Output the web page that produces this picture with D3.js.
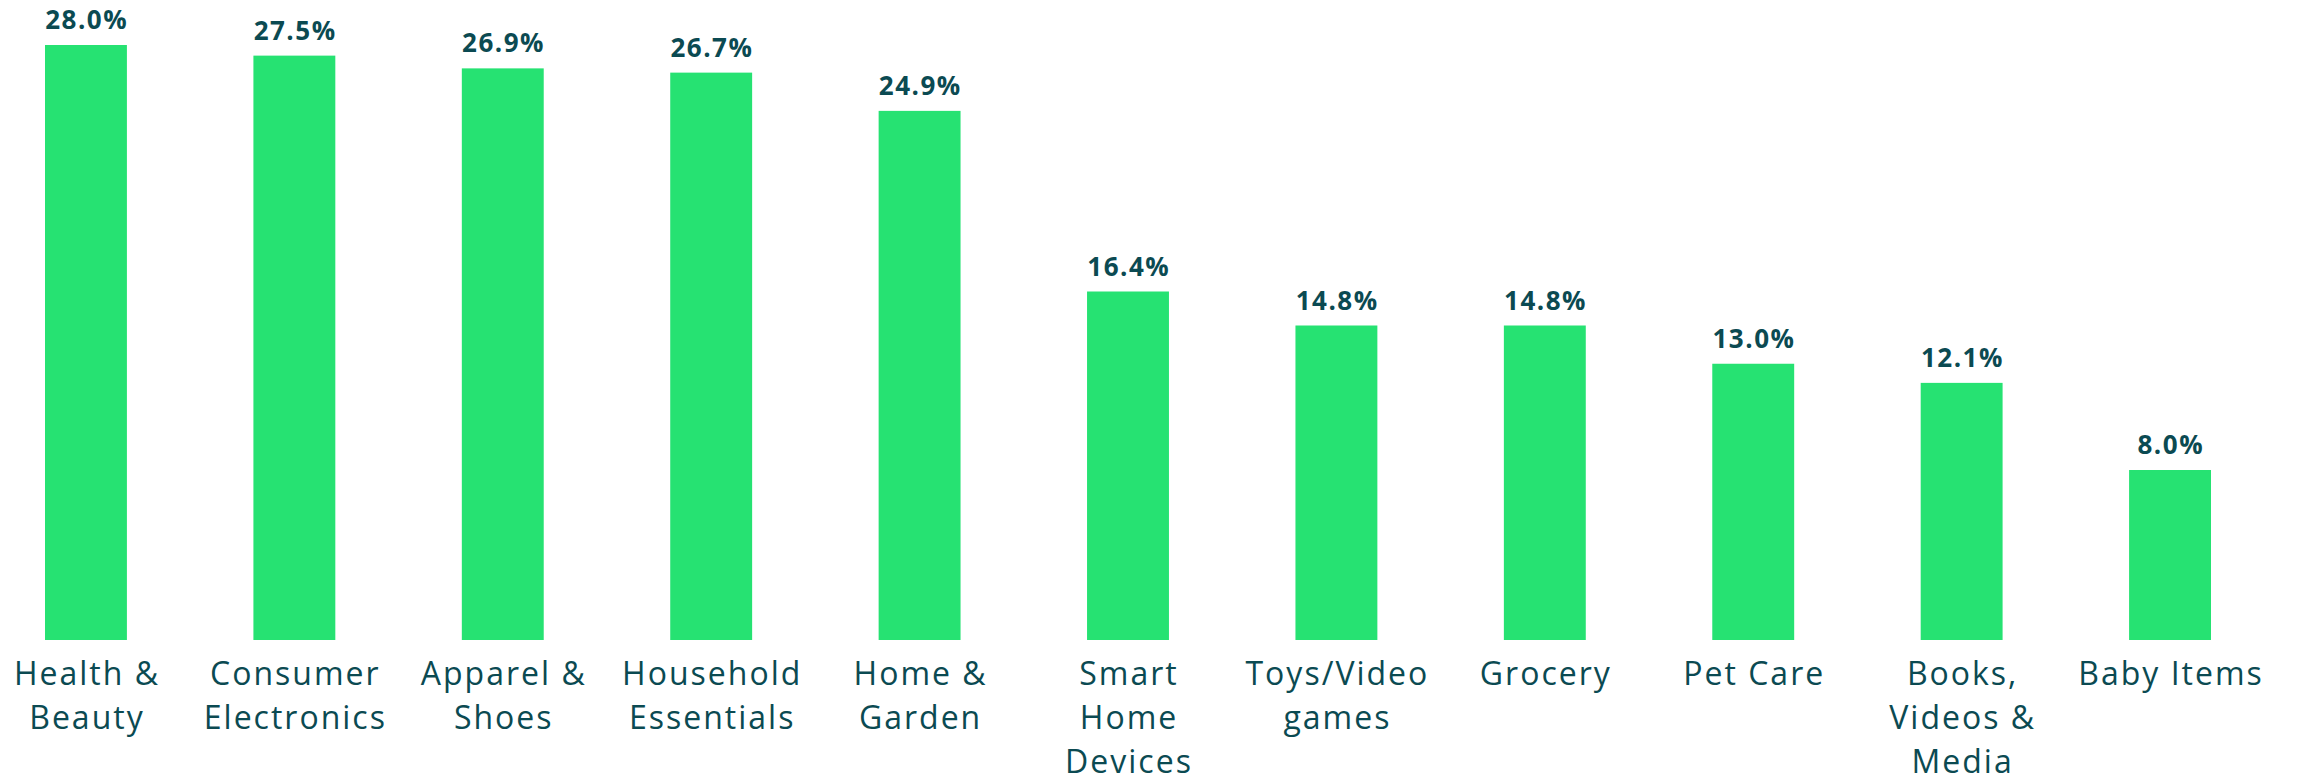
<!DOCTYPE html>
<html>
<head>
<meta charset="utf-8">
<script src="https://cdn.jsdelivr.net/npm/d3@7"></script>
<style>
  html, body { margin: 0; padding: 0; background: #ffffff; }
  svg { display: block; }
</style>
</head>
<body>
<svg id="chart" width="2298" height="777"></svg>
<script>
// Share of shoppers by product category (%)
const categories = [
  "Health &\nBeauty",
  "Consumer\nElectronics",
  "Apparel &\nShoes",
  "Household\nEssentials",
  "Home &\nGarden",
  "Smart\nHome\nDevices",
  "Toys/Video\ngames",
  "Grocery",
  "Pet Care",
  "Books,\nVideos &\nMedia",
  "Baby Items"
];
const values = [28.0, 27.5, 26.9, 26.7, 24.9, 16.4, 14.8, 14.8, 13.0, 12.1, 8.0];

const barColor = "#26e272";
const textColor = "#0b4a52";

const svg = d3.select("#chart");

const x = d3.scaleBand()
  .domain(categories)
  .range([45, 2211])
  .paddingInner(0.607)
  .paddingOuter(0);

const y = d3.scaleLinear()
  .domain([0, 28])
  .range([640, 45]);

const data = categories.map((c, i) => ({ category: c, value: values[i] }));

// bars
svg.append("g")
  .selectAll("rect")
  .data(data)
  .join("rect")
  .attr("x", d => x(d.category))
  .attr("y", d => y(d.value))
  .attr("width", x.bandwidth())
  .attr("height", d => y(0) - y(d.value))
  .attr("fill", barColor);

// value labels above bars
svg.append("g")
  .selectAll("text")
  .data(data)
  .join("text")
  .attr("x", d => x(d.category) + x.bandwidth() / 2 + 0.75)
  .attr("y", d => y(d.value) - 16)
  .attr("text-anchor", "middle")
  .attr("font-family", "'Open Sans', Lato, sans-serif")
  .attr("font-weight", 700)
  .attr("font-size", 26)
  .attr("letter-spacing", 1.5)
  .attr("fill", textColor)
  .text(d => d.value.toFixed(1) + "%");

// category labels below bars (multi-line)
const labels = svg.append("g")
  .selectAll("text")
  .data(data)
  .join("text")
  .attr("y", 685)
  .attr("text-anchor", "middle")
  .attr("font-family", "'Open Sans', Lato, sans-serif")
  .attr("font-weight", 400)
  .attr("font-size", 32)
  .attr("letter-spacing", 2)
  .attr("fill", textColor);

labels.selectAll("tspan")
  .data(d => d.category.split("\n").map(line => ({ line, cx: x(d.category) + x.bandwidth() / 2 + 1 })))
  .join("tspan")
  .attr("x", d => d.cx)
  .attr("dy", (d, i) => i === 0 ? 0 : 44)
  .text(d => d.line);
</script>
</body>
</html>
